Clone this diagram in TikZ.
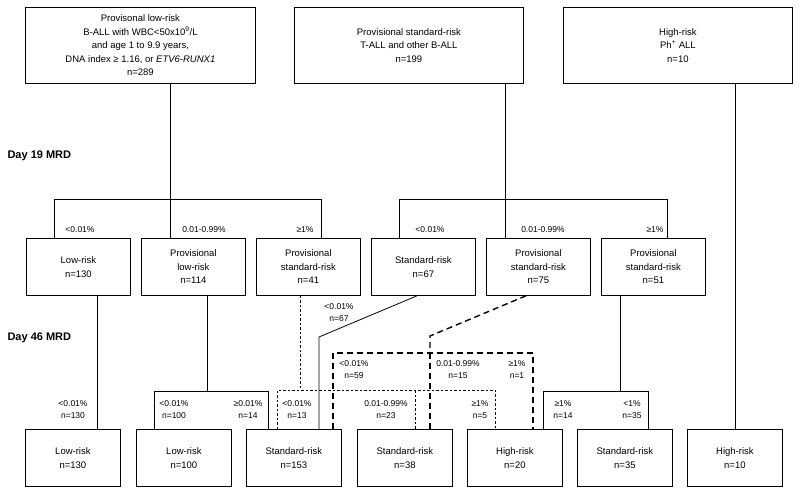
\documentclass[tikz,border=0pt]{standalone}
\usepackage{fontspec}
\setmainfont{Liberation Sans}
\begin{document}
\begin{tikzpicture}[x=1pt,y=-1pt,
  box/.style={draw,line width=0.8pt,align=center,anchor=north west,inner sep=1pt,font=\fontsize{9.5}{13.5}\selectfont},
  lab/.style={align=center,font=\fontsize{8.5}{12}\selectfont,inner sep=0pt},
  hd/.style={font=\fontsize{11}{13}\selectfont\bfseries,anchor=west},
  ln/.style={line width=0.8pt},
  fd/.style={line width=0.8pt,dash pattern=on 2.5pt off 2pt},
  hdash/.style={line width=1.4pt,dash pattern=on 6pt off 4pt}]
\useasboundingbox (0,0) rectangle (800,494);
% top row
\node[box,minimum width=230,minimum height=76] (t1) at (25,7) {Provisonal low-risk\\B-ALL with WBC<50x10\textsuperscript{9}/L\\and age 1 to 9.9 years,\\DNA index ≥ 1.16, or \textit{ETV6-RUNX1}\\n=289};
\node[box,minimum width=229,minimum height=76] (t2) at (294,7) {Provisional standard-risk\\T-ALL and other B-ALL\\n=199};
\node[box,minimum width=229,minimum height=76] (t3) at (563,7) {High-risk\\Ph\textsuperscript{+} ALL\\n=10};
% middle row
\node[box,minimum width=104,minimum height=57] (m1) at (26,238) {Low-risk\\n=130};
\node[box,minimum width=104,minimum height=57] (m2) at (141,238) {Provisional\\low-risk\\n=114};
\node[box,minimum width=104,minimum height=57] (m3) at (256,238) {Provisional\\standard-risk\\n=41};
\node[box,minimum width=104,minimum height=57] (m4) at (371,238) {Standard-risk\\n=67};
\node[box,minimum width=104,minimum height=57] (m5) at (486,238) {Provisional\\standard-risk\\n=75};
\node[box,minimum width=104,minimum height=57] (m6) at (601,238) {Provisional\\standard-risk\\n=51};
% bottom row
\node[box,minimum width=95,minimum height=57] (b1) at (25,429) {Low-risk\\n=130};
\node[box,minimum width=95,minimum height=57] (b2) at (136,429) {Low-risk\\n=100};
\node[box,minimum width=95,minimum height=57] (b3) at (246,429) {Standard-risk\\n=153};
\node[box,minimum width=95,minimum height=57] (b4) at (357,429) {Standard-risk\\n=38};
\node[box,minimum width=95,minimum height=57] (b5) at (467,429) {High-risk\\n=20};
\node[box,minimum width=95,minimum height=57] (b6) at (577,429) {Standard-risk\\n=35};
\node[box,minimum width=95,minimum height=57] (b7) at (687,429) {High-risk\\n=10};
% headings
\node[hd] (d19) at (4,156) {Day 19 MRD};
\node[hd] (d46) at (4,338) {Day 46 MRD};
% day 19 connectors
\draw[ln] (170,0 |- t1.south) -- (170,199);
\draw[ln] (54,0 |- m1.north) -- (54,199) -- (321,199) -- (321,0 |- m3.north);
\draw[ln] (170,199) -- (170,0 |- m2.north);
\draw[ln] (505,0 |- t2.south) -- (505,0 |- m5.north);
\draw[ln] (399,0 |- m4.north) -- (399,199) -- (667,199) -- (667,0 |- m6.north);
\draw[ln] (735,0 |- t3.south) -- (735,0 |- b7.north);
\node[lab] (l1) at (80,230) {<0.01\%};
\node[lab] (l2) at (204,230) {0.01-0.99\%};
\node[lab] (l3) at (305,230) {≥1\%};
\node[lab] (l4) at (430,230) {<0.01\%};
\node[lab] (l5) at (543,230) {0.01-0.99\%};
\node[lab] (l6) at (655,230) {≥1\%};
% day 46 connectors
\draw[ln] (97,0 |- m1.south) -- (97,0 |- b1.north);
\draw[ln] (207,0 |- m2.south) -- (207,391);
\draw[ln] (154,0 |- b2.north) -- (154,391) -- (268,391) -- (268,0 |- b3.north);
\draw[ln] (620,0 |- m6.south) -- (620,391);
\draw[ln] (543,0 |- b5.north) -- (543,391) -- (648,391) -- (648,0 |- b6.north);
\draw[fd] (300,0 |- m3.south) -- (300,390);
\draw[fd] (277,0 |- b3.north) -- (277,390) -- (495,390) -- (495,0 |- b5.north);
\draw[fd] (415,390) -- (415,0 |- b4.north);
\draw[ln] (417,0 |- m4.south) -- (319,337) -- (319,0 |- b3.north);
\draw[hdash] (526,0 |- m5.south) -- (430,336) -- (430,353);
\draw[hdash] (333,0 |- b3.north) -- (333,353) -- (533,353) -- (533,0 |- b5.north);
\draw[hdash] (430,353) -- (430,0 |- b4.north);
\node[lab] (k1) at (73,410) {<0.01\%\\n=130};
\node[lab] (k2) at (174,410) {<0.01\%\\n=100};
\node[lab] (k3) at (248,410) {≥0.01\%\\n=14};
\node[lab] (k4) at (297,410) {<0.01\%\\n=13};
\node[lab] (k5) at (386,410) {0.01-0.99\%\\n=23};
\node[lab] (k6) at (480,410) {≥1\%\\n=5};
\node[lab] (k7) at (563,410) {≥1\%\\n=14};
\node[lab] (k8) at (632,410) {<1\%\\n=35};
\node[lab] (k9) at (339,313) {<0.01\%\\n=67};
\node[lab] (k10) at (354,370) {<0.01\%\\n=59};
\node[lab] (k11) at (458,370) {0.01-0.99\%\\n=15};
\node[lab] (k12) at (517,370) {≥1\%\\n=1};
\end{tikzpicture}
\end{document}
